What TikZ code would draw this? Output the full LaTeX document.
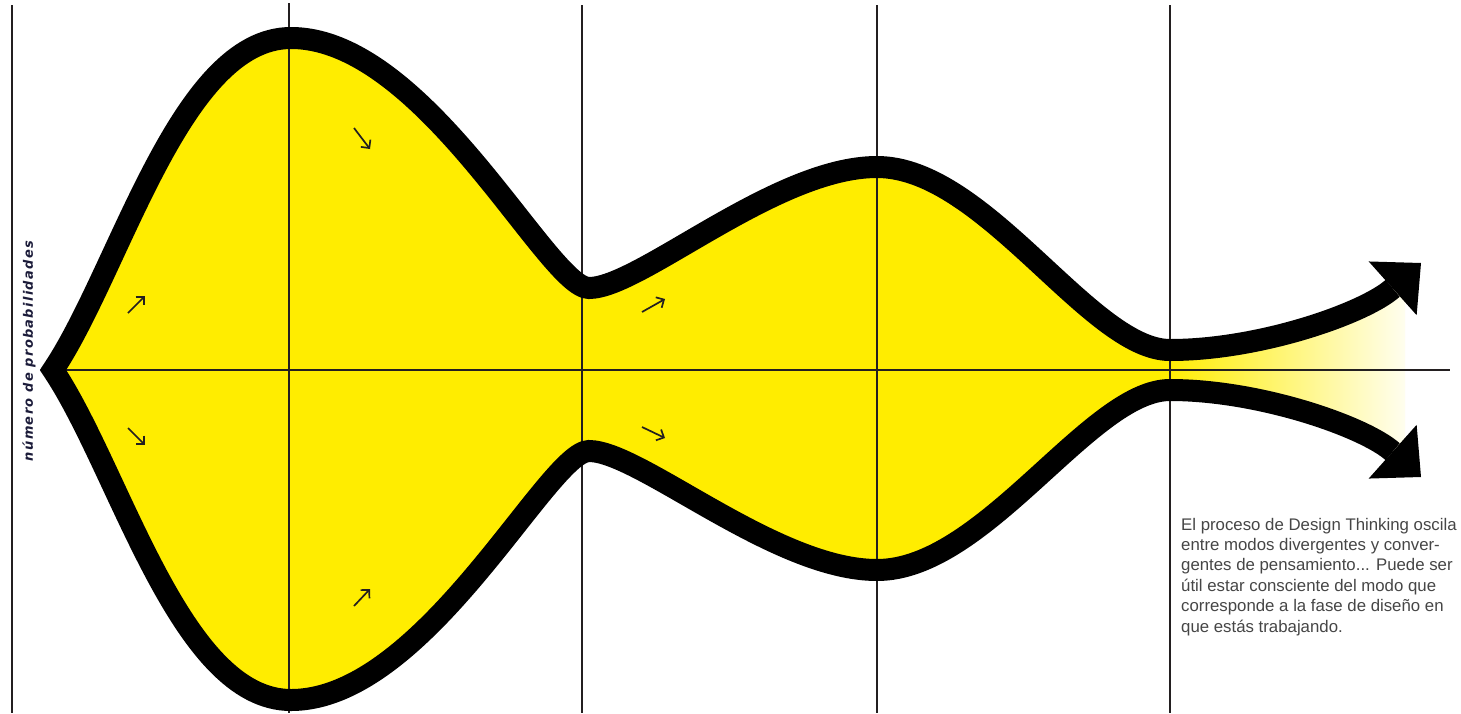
\documentclass[tikz,border=0pt]{standalone}
\usepackage{fontspec}
\setmainfont{Liberation Sans}
\newfontfamily\labelfont[LetterSpace=10]{DejaVu Sans}
\usetikzlibrary{arrows.meta}
\definecolor{dtyellow}{RGB}{255,237,0}
\definecolor{gridgray}{RGB}{35,31,32}
\definecolor{labelnavy}{RGB}{28,28,58}
\definecolor{textgray}{RGB}{70,70,70}
\begin{document}
\begin{tikzpicture}[x=1pt,y=-1pt,
  grid/.style={draw=gridgray,line width=2.4pt},
  band/.style={line width=22pt, line join=miter},
  hint/.style={line width=1.7pt, draw=gridgray, -{Straight Barb[length=6pt,width=12pt]}},
  note/.style={anchor=base west, inner sep=0pt, font=\fontsize{16.8}{20}\selectfont, text=textgray}]
\useasboundingbox (0,0) rectangle (1461,713);
\fill[white] (0,0) rectangle (1461,713);
\coordinate (tip) at (53,370);
\coordinate (tA) at (291,38);
\coordinate (tB) at (589,288);
\coordinate (tC) at (877,167);
\coordinate (tD) at (1170,350);
\coordinate (tE) at (1421,263);
\coordinate (bA) at (291,700);
\coordinate (bB) at (589,451);
\coordinate (bC) at (877,570);
\coordinate (bD) at (1170,390);
\coordinate (bE) at (1421,477);
% yellow body
\fill[dtyellow] (tD) .. controls (1090,350) and (985,167) .. (tC)
  .. controls (775,167) and (640,288) .. (tB)
  .. controls (548,288) and (425,38) .. (tA)
  .. controls (180,38) and (120,270) .. (tip)
  .. controls (120,470) and (180,700) .. (bA)
  .. controls (425,700) and (548,451) .. (bB)
  .. controls (640,451) and (775,570) .. (bC)
  .. controls (985,570) and (1090,390) .. (bD) -- cycle;
% fading tail
\begin{scope}
\clip (1160,0) rectangle (1405,713);
\shade[left color=dtyellow, right color=white] (1165,350) -- (tD)
  .. controls (1260,350) and (1365,313) .. (tE) -- (bE)
  .. controls (1365,427) and (1260,390) .. (bD) -- (1165,390) -- cycle;
\end{scope}
% grid
\draw[grid] (12,5) -- (12,713);
\draw[grid] (289,3) -- (289,713);
\draw[grid] (582,5) -- (582,713);
\draw[grid] (877,5) -- (877,713);
\draw[grid] (1170,5) -- (1170,713);
\draw[grid] (50,370) -- (1450,370);
% band
\draw[band, {Triangle[length=38pt,width=72pt,line width=0pt]}-{Triangle[length=38pt,width=72pt,line width=0pt]}]
  (tE) .. controls (1365,313) and (1260,350) .. (tD)
  .. controls (1090,350) and (985,167) .. (tC)
  .. controls (775,167) and (640,288) .. (tB)
  .. controls (548,288) and (425,38) .. (tA)
  .. controls (180,38) and (120,270) .. (tip)
  .. controls (120,470) and (180,700) .. (bA)
  .. controls (425,700) and (548,451) .. (bB)
  .. controls (640,451) and (775,570) .. (bC)
  .. controls (985,570) and (1090,390) .. (bD)
  .. controls (1260,390) and (1365,427) .. (bE);
% small arrows
\draw[hint] (128,313) -- (145,296);
\draw[hint] (354,128) -- (370,149);
\draw[hint] (128,428) -- (145,445);
\draw[hint] (354,606) -- (370,589);
\draw[hint] (642,312) -- (665,299);
\draw[hint] (642,427) -- (665,438);
% labels
\node[rotate=90, inner sep=0pt, font=\labelfont\bfseries\itshape\fontsize{13}{15}\selectfont, text=labelnavy] (ylabel) at (29,351) {número de probabilidades};
\node[note] (n1) at (1181,530) {El proceso de Design Thinking oscila};
\node[note] (n2) at (1181,550.4) {entre modos divergentes y conver-};
\node[note] (n3) at (1181,570.8) {gentes de pensamiento... Puede ser};
\node[note] (n4) at (1181,591.2) {útil estar consciente del modo que};
\node[note] (n5) at (1181,611.6) {corresponde a la fase de diseño en};
\node[note] (n6) at (1181,632) {que estás trabajando.};
\end{tikzpicture}
\end{document}
